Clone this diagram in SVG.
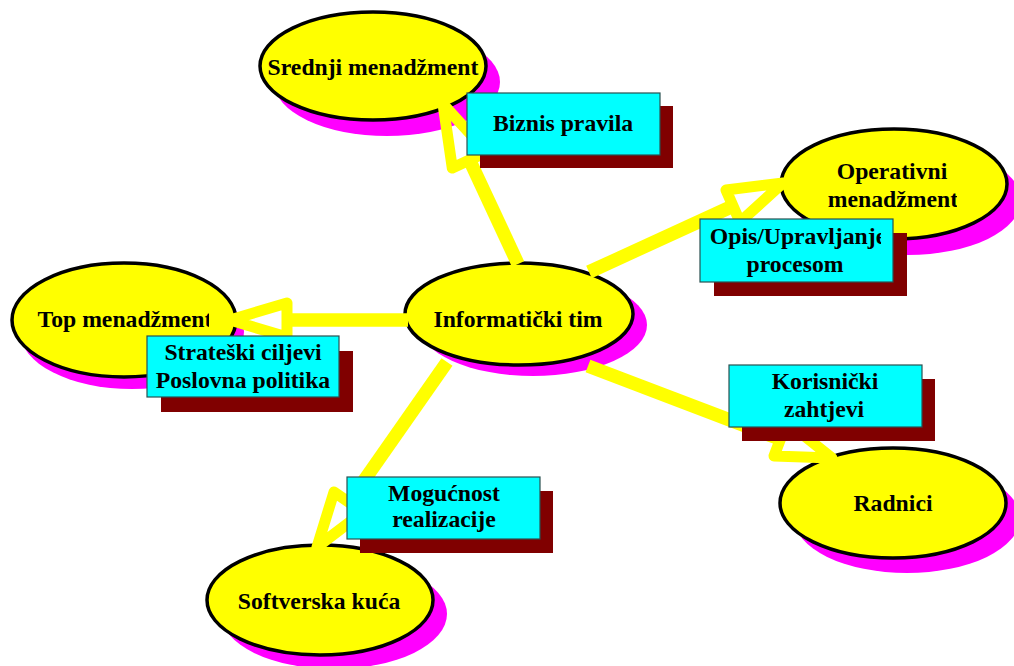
<svg xmlns="http://www.w3.org/2000/svg" width="1014" height="666" viewBox="0 0 1014 666">
  <style>
    .sh { fill: #FF00FF; }
    .el { fill: #FFFF00; stroke: #000000; stroke-width: 3.5; }
    .t { font-family: "Liberation Serif", "Times New Roman", serif; font-weight: bold; font-size: 23.7px; fill: #000000; text-anchor: middle; }
    .shaft { stroke: #FFFF00; stroke-width: 13.5; fill: none; stroke-linecap: butt; }
    .head { stroke: #FFFF00; stroke-width: 11; fill: none; stroke-linejoin: round; }
    .bsh { fill: #800000; }
    .box { fill: #00FFFF; stroke: #2a5050; stroke-width: 1.2; }
  </style>
  <defs>
    <clipPath id="clipTop"><rect x="0" y="290" width="209" height="50"/></clipPath>
    <clipPath id="clipOper"><rect x="780" y="185" width="177" height="30"/></clipPath>
    <clipPath id="clipOpis"><rect x="700" y="220" width="181" height="30"/></clipPath>
  </defs>
  <rect x="0" y="0" width="1014" height="666" fill="#FFFFFF"/>

  <g id="node-srednji">
    <ellipse class="sh" cx="387" cy="82" rx="113" ry="54"/>
    <ellipse class="el" cx="373" cy="66" rx="113" ry="54"/>
    <text class="t" x="373" y="75">Srednji menadžment</text>
  </g>
  <g id="node-top">
    <ellipse class="sh" cx="132" cy="332" rx="112" ry="57"/>
    <ellipse class="el" cx="124" cy="320" rx="112" ry="57"/>
    <text class="t" x="125" y="327" clip-path="url(#clipTop)">Top menadžment</text>
  </g>
  <g id="node-informaticki">
    <ellipse class="sh" cx="533" cy="325" rx="114" ry="51"/>
    <ellipse class="el" cx="519" cy="314" rx="114" ry="51"/>
    <text class="t" x="518" y="327">Informatički tim</text>
  </g>
  <g id="node-operativni">
    <ellipse class="sh" cx="908" cy="200" rx="113" ry="55"/>
    <ellipse class="el" cx="894" cy="184" rx="113" ry="55"/>
    <text class="t" x="892" y="179">Operativni</text>
    <text class="t" x="893" y="207" clip-path="url(#clipOper)">menadžment</text>
  </g>
  <g id="node-radnici">
    <ellipse class="sh" cx="907" cy="518" rx="113" ry="55"/>
    <ellipse class="el" cx="893" cy="503" rx="113" ry="55"/>
    <text class="t" x="893" y="511">Radnici</text>
  </g>
  <g id="node-softverska">
    <ellipse class="sh" cx="334" cy="614" rx="113" ry="55"/>
    <ellipse class="el" cx="320" cy="600" rx="113" ry="55"/>
    <text class="t" x="319" y="609">Softverska kuća</text>
  </g>

  <g id="connectors">
    <line class="shaft" x1="518" y1="264" x2="469.5" y2="160"/>
    <polygon class="head" points="443,104 486.7,151.9 452.3,168.1"/>
    <line class="shaft" x1="408" y1="320" x2="287" y2="320"/>
    <polygon class="head" points="230,320 287,303 287,337"/>
    <line class="shaft" x1="589" y1="272" x2="733" y2="206"/>
    <polygon class="head" points="783,183 740,222 726,190"/>
    <line class="shaft" x1="588" y1="366" x2="780" y2="439"/>
    <polygon class="head" points="832,458 774,456 787,422"/>
    <line class="shaft" x1="447" y1="362" x2="349" y2="502"/>
    <polygon class="head" points="317,547 363,512 334,492"/>
  </g>

  <g id="label-biznis">
    <rect class="bsh" x="480" y="106" width="193" height="62"/>
    <rect class="box" x="467" y="93" width="193" height="62"/>
    <text class="t" x="563" y="131">Biznis pravila</text>
  </g>
  <g id="label-strateski">
    <rect class="bsh" x="161" y="351" width="192" height="61"/>
    <rect class="box" x="147" y="336" width="192" height="61"/>
    <text class="t" x="243" y="360">Strateški ciljevi</text>
    <text class="t" x="243" y="388">Poslovna politika</text>
  </g>
  <g id="label-opis">
    <rect class="bsh" x="714" y="233" width="193" height="63"/>
    <rect class="box" x="700" y="219" width="193" height="63"/>
    <text class="t" x="798" y="244" clip-path="url(#clipOpis)">Opis/Upravljanje</text>
    <text class="t" x="795" y="272">procesom</text>
  </g>
  <g id="label-korisnicki">
    <rect class="bsh" x="742" y="379" width="193" height="62"/>
    <rect class="box" x="729" y="365" width="193" height="62"/>
    <text class="t" x="825" y="389">Korisnički</text>
    <text class="t" x="824" y="417">zahtjevi</text>
  </g>
  <g id="label-mogucnost">
    <rect class="bsh" x="360" y="491" width="193" height="62"/>
    <rect class="box" x="347" y="477" width="193" height="62"/>
    <text class="t" x="444" y="501">Mogućnost</text>
    <text class="t" x="444" y="527">realizacije</text>
  </g>
</svg>
